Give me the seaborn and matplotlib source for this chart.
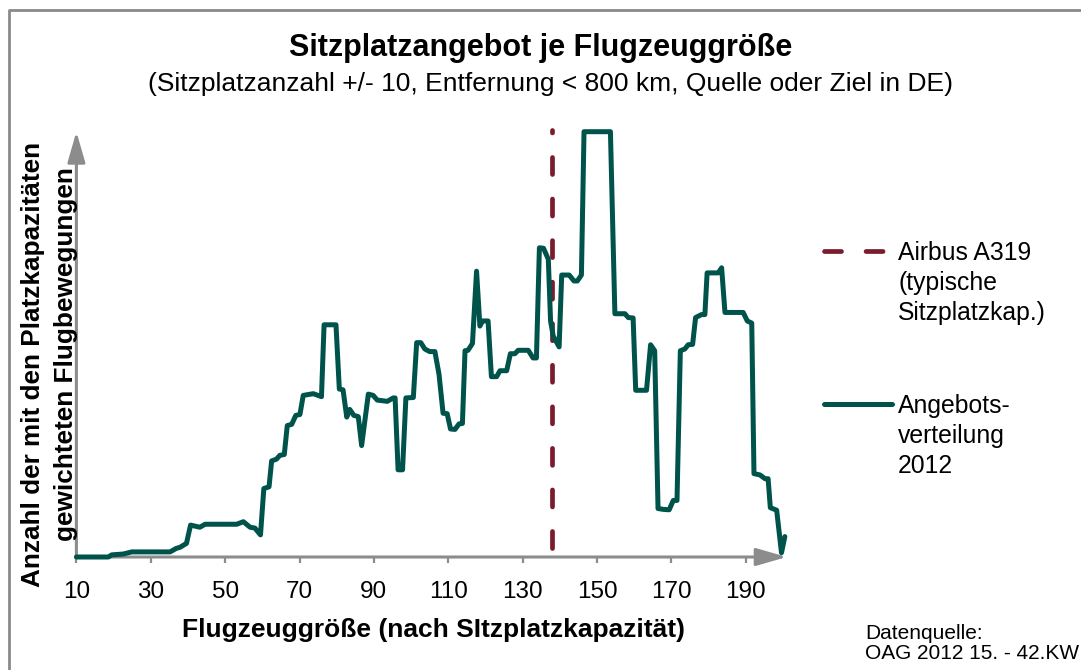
import matplotlib
matplotlib.use("Agg")
import matplotlib.pyplot as plt
from matplotlib.lines import Line2D
import seaborn as sns
import pandas as pd

# ---------------- data ----------------
seat_capacity = [
    10, 18.6, 19.5, 22.6, 24.9, 35.2, 36.8, 37.9, 39.6, 40.7,
    43.2, 44.6, 53.1, 54.9, 56.7, 58.0, 59.5, 60.4, 61.8, 62.5,
    63.8, 64.7, 65.9, 66.7, 67.9, 69.0, 70.1, 71.0, 73.7, 75.9,
    76.6, 79.8, 80.7, 81.7, 82.7, 83.5, 84.6, 85.8, 86.7, 88.5,
    89.8, 90.9, 93.6, 95.2, 95.7, 96.5, 97.7, 98.6, 100.6, 101.5,
    102.6, 103.7, 105.0, 106.4, 107.5, 108.6, 109.7, 110.6, 111.8, 112.9,
    113.8, 114.5, 115.3, 116.5, 117.6, 118.5, 119.2, 120.7, 121.6, 123.0,
    123.9, 125.7, 126.7, 127.9, 128.8, 131.5, 132.8, 133.7, 134.5, 135.6,
    136.9, 137.5, 138.2, 139.8, 140.5, 142.5, 143.8, 144.7, 145.8, 146.5,
    153.6, 154.8, 157.5, 158.4, 159.7, 160.4, 163.3, 164.4, 165.5, 166.4,
    167.8, 169.4, 170.5, 171.5, 172.4, 173.6, 174.5, 175.7, 176.5, 178.1,
    179.0, 179.6, 182.6, 183.5, 184.4, 189.3, 190.4, 191.6, 192.2, 193.8,
    195.2, 196.0, 196.6, 198.3, 199.6, 200.5,
]
weighted_flights = [
    0, 0, 0.5, 0.7, 1.2, 1.2, 2.0, 2.3, 3.2, 7.5,
    7.0, 7.7, 7.7, 8.3, 7.0, 6.8, 5.2, 16.1, 16.5, 22.6,
    23.0, 23.9, 24.1, 30.9, 31.2, 33.3, 33.5, 38.0, 38.4, 37.7,
    54.6, 54.6, 39.5, 39.3, 32.9, 34.7, 33.3, 33.0, 26.2, 38.3,
    38.0, 36.9, 36.6, 37.4, 37.4, 20.5, 20.5, 37.4, 37.5, 50.4,
    50.4, 48.9, 48.3, 48.3, 43.0, 33.8, 33.7, 30.1, 30.0, 31.3,
    31.4, 48.5, 48.6, 50.2, 67.2, 54.3, 55.5, 55.5, 42.4, 42.4,
    43.8, 43.8, 47.8, 47.8, 48.6, 48.6, 46.8, 46.8, 72.7, 72.6,
    70.0, 55.5, 52.0, 49.4, 66.3, 66.3, 64.9, 64.9, 66.3, 100,
    100, 57.2, 57.2, 56.3, 56.2, 39.2, 39.2, 49.9, 48.5, 11.4,
    11.2, 11.1, 13.3, 13.3, 48.5, 48.9, 49.9, 50.0, 56.3, 57.0,
    57.0, 66.8, 66.8, 68.0, 57.5, 57.5, 55.5, 55.0, 19.6, 19.3,
    18.4, 18.4, 11.6, 11.0, 1.0, 4.8,
]
a319_seats = 138
a319_y = [2, 100.5]
x_ticks = [10, 30, 50, 70, 90, 110, 130, 150, 170, 190]

title = "Sitzplatzangebot je Flugzeuggröße"
subtitle = "(Sitzplatzanzahl +/- 10, Entfernung < 800 km, Quelle oder Ziel in DE)"
x_label = "Flugzeuggröße (nach SItzplatzkapazität)"
y_label_line1 = "Anzahl der mit den Platzkapazitäten"
y_label_line2 = "gewichteten Flugbewegungen"
legend_a319 = "Airbus A319\n(typische\nSitzplatzkap.)"
legend_line = "Angebots-\nverteilung\n2012"
source_text = "Datenquelle:\nOAG 2012 15. - 42.KW"

# ---------------- style ----------------
sns.set_style("white")
plt.rcParams["font.family"] = ["Liberation Sans", "DejaVu Sans"]
plt.rcParams["text.color"] = "black"
plt.rcParams["xtick.color"] = "black"

TEAL = "#00534B"
MAROON = "#7A1C2E"
GREY = "#8C8C8C"

W, H = 1081, 670
fx = lambda x: x / W
fy = lambda y: 1 - y / H

fig = plt.figure(figsize=(W / 100, H / 100), dpi=100)
fig.patch.set_facecolor("white")

x0, x1 = 76.4, 786.7
y0, y1 = 557.0, 131.7
ax = fig.add_axes([fx(x0), fy(y0), fx(x1) - fx(x0), (y0 - y1) / H])
ax.set_xlim(10, 201)
ax.set_ylim(0, 100)
for s in ax.spines.values():
    s.set_visible(False)
ax.set_facecolor("none")

df = pd.DataFrame({"seats": seat_capacity, "value": weighted_flights})

# axis arrows
arrow = dict(arrowstyle="-|>,head_length=1.87,head_width=0.54", color=GREY,
             lw=2.2, mutation_scale=10, shrinkA=0, shrinkB=0)
ax.annotate("", xy=(1, 0), xytext=(0, 0), xycoords="axes fraction",
            arrowprops=arrow, zorder=1)
ax.annotate("", xy=(0, 1), xytext=(0, 0), xycoords="axes fraction",
            arrowprops=arrow, zorder=1)

# A319 reference line
ax.plot([a319_seats, a319_seats], a319_y, color=MAROON, lw=3.4,
        dashes=(3.6, 5.2), dash_capstyle="round", zorder=2, clip_on=False)

# distribution line
sns.lineplot(data=df, x="seats", y="value", color=TEAL, linewidth=3.6,
             estimator=None, ax=ax, zorder=3, clip_on=False)

ax.set_xticks(x_ticks)
ax.set_xticklabels([str(t) for t in x_ticks])
ax.set_yticks([])
ax.tick_params(axis="x", bottom=True, length=4.3, width=1.6, color=GREY,
               pad=13, labelsize=17.5, labelcolor="black", direction="out")
ax.set_xlabel("")
ax.set_ylabel("")

# texts
fig.text(fx(541), fy(48), title, ha="center", va="center",
         fontsize=22, fontweight="bold")
fig.text(fx(550), fy(84), subtitle, ha="center", va="center", fontsize=19)
fig.text(fx(434), fy(630), x_label, ha="center", va="center",
         fontsize=19, fontweight="bold")
fig.text(fx(33), fy(364), y_label_line1, ha="center", va="center",
         rotation=90, fontsize=18.8, fontweight="bold")
fig.text(fx(66), fy(354), y_label_line2, ha="center", va="center",
         rotation=90, fontsize=18.8, fontweight="bold")
fig.text(fx(865), fy(643.5), source_text, ha="left", va="center",
         fontsize=15, linespacing=1.1)

# legend (manual)
fig.add_artist(Line2D([fx(824), fx(883)], [fy(251), fy(251)],
                      transform=fig.transFigure, color=MAROON, lw=3.4,
                      dashes=(3.6, 5.2), dash_capstyle="round"))
fig.text(fx(898), fy(283), legend_a319, ha="left", va="center",
         fontsize=17.8, linespacing=1.3)
fig.add_artist(Line2D([fx(824), fx(892)], [fy(404), fy(404)],
                      transform=fig.transFigure, color=TEAL, lw=3.6,
                      solid_capstyle="round"))
fig.text(fx(898), fy(436), legend_line, ha="left", va="center",
         fontsize=17.8, linespacing=1.3)

# figure frame (left and top edges visible)
fig.add_artist(Line2D([fx(8.7), fx(8.7), 1.0], [0.0, fy(10), fy(10)],
                      transform=fig.transFigure, color="#8A8A8A", lw=2.0))

fig.savefig("out.png", dpi=100)
